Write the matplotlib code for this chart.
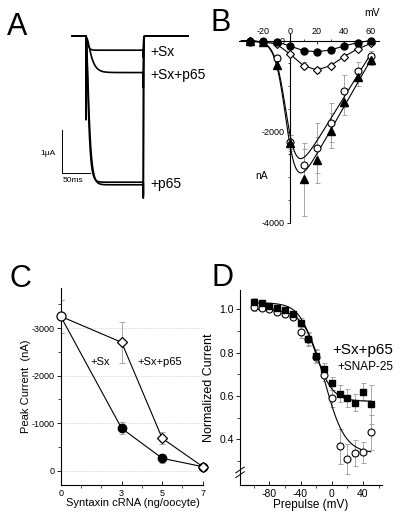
import matplotlib.pyplot as plt
import numpy as np
from matplotlib.ticker import FixedLocator, MultipleLocator

plt.rcParams['font.family'] = ['Liberation Sans', 'DejaVu Sans']
plt.rcParams['axes.unicode_minus'] = False

# ---- A: current traces (uA), step pulse ----
trace_labels = ['+Sx', '+Sx+p65', '+p65', '']
trace_amp = [-0.33, -0.85, -3.40, -3.46]     # steady-state current, uA
trace_tau = [2.5, 7.0, 3.5, 4.2]             # activation, ms
trace_tail = [-0.5, -1.2, -3.77, -3.7]       # tail peak, uA
trace_cap = [0.0, -1.95, 0.0, 0.0]           # onset transient, uA
pulse_on, pulse_off, trace_end = 24.5, 126.8, 206.6

# ---- B: I-V ----
iv_mv = [-30, -20, -10, 0, 10, 20, 30, 40, 50, 60]
iv_sx = [-25, -25, -30, -120, -224, -246, -209, -121, -48, 0]
iv_sx_err = [0, 0, 0, 30, 40, 40, 35, 30, 20, 10]
iv_sxp65 = [-20, -30, -77, -297, -553, -648, -553, -355, -187, -62]
iv_sxp65_err = [0, 0, 20, 40, 70, 70, 60, 50, 40, 30]
iv_p65 = [-10, -20, -377, -2224, -2736, -2356, -1806, -1110, -670, -333]
iv_p65_err = [0, 0, 60, 150, 350, 550, 430, 350, 200, 100]
iv_tri = [-15, -30, -538, -2246, -3051, -2626, -1982, -1345, -810, -428]
iv_tri_err = [0, 0, 80, 180, 800, 500, 380, 300, 200, 110]
# Boltzmann-ohmic fit parameters: gmax (nA/mV), Erev, V50, k
fit_p65 = (48, 66, -2.5, 4.0)
fit_tri = (52, 68, -2.5, 4.0)

# ---- C: dose response ----
dose = [0, 3, 5, 7]
peak_sx = [-3250, -893, -261, -84]
peak_sx_err = [350, 130, 100, 30]
peak_sxp65 = [-3250, -2703, -682, -84]
peak_sxp65_err = [350, 430, 130, 30]

# ---- D: inactivation ----
prepulse = [-100, -90, -80, -70, -60, -50, -40, -30, -20, -10, 0, 10, 20, 30, 40, 50]
norm_sq = [1.035, 1.028, 1.015, 1.007, 0.997, 0.978, 0.938, 0.862, 0.785, 0.722,
           0.659, 0.610, 0.590, 0.569, 0.620, 0.562]
norm_sq_err = [0.015, 0.01, 0.01, 0.01, 0.01, 0.01, 0.02, 0.03, 0.03, 0.03,
               0.03, 0.04, 0.04, 0.04, 0.04, 0.09]
norm_circ = [1.01, 1.005, 1.0, 0.986, 0.98, 0.963, 0.896, 0.865, 0.78, 0.697,
             0.589, 0.367, 0.309, 0.338, 0.339, 0.431]
norm_circ_err = [0.02, 0.01, 0.01, 0.01, 0.01, 0.01, 0.03, 0.03, 0.03, 0.03,
                 0.04, 0.08, 0.07, 0.06, 0.05, 0.08]
# Boltzmann: top, bottom, V50, k
boltz_sq = (1.03, 0.575, -21, 11)
boltz_circ = (1.0, 0.335, -9, 13)

W, H = 400, 516
fig = plt.figure(figsize=(4, 5.16), dpi=100)


def box(x0, y0, x1, y1):
    return [x0 / W, 1 - y1 / H, (x1 - x0) / W, (y1 - y0) / H]


def ftext(x, y, s, **kw):
    fig.text(x / W, 1 - y / H, s, ha='center', va='center', **kw)


# ================= A =================
axA = fig.add_axes(box(30, 15, 205, 215))
axA.axis('off')
ms_px = 50 / 28
ua_px = 1 / 43
axA.set_xlim((30 - 72.3) * ms_px, (205 - 72.3) * ms_px)
axA.set_ylim((36 - 215) * ua_px, (36 - 15) * ua_px)

t = np.arange(0, trace_end, 0.05)
for amp, tau, tail, cap in zip(trace_amp, trace_tau, trace_tail, trace_cap):
    i = np.zeros_like(t)
    on = (t >= pulse_on) & (t < pulse_off)
    i[on] = amp * (1 - np.exp(-(t[on] - pulse_on) / tau)) ** 2
    i[on] += cap * np.exp(-(t[on] - pulse_on) / 0.4)
    off = t >= pulse_off
    i[off] = tail * np.exp(-(t[off] - pulse_off) / 0.35)
    axA.plot(t, i, color='k', lw=1.2)

for lab, amp in zip(trace_labels, trace_amp):
    if lab:
        axA.text(pulse_off + 13, amp - 0.05, lab, fontsize=10, va='center')

# scale bar 1 uA / 50 ms
sx0, sy0 = -18.4, -3.19
axA.plot([sx0, sx0, sx0 + 50], [sy0 + 1, sy0, sy0], color='k', lw=0.7)
axA.text(sx0 - 25, sy0 + 0.45, '1µA', fontsize=6, ha='center', va='center')
axA.text(sx0 + 20, sy0 - 0.18, '50ms', fontsize=6, ha='center', va='center')
ftext(17, 27, 'A', fontsize=22)

# ================= B =================
axB = fig.add_axes(box(238, 30, 382, 228))
axB.set_xlim((238 - 290) / 1.35, (382 - 290) / 1.35)
axB.set_ylim(-(228 - 40.5) * 2000 / 91, (40.5 - 30) * 2000 / 91)
for s in ['bottom', 'right']:
    axB.spines[s].set_visible(False)
axB.spines['top'].set_position(('data', 0))
axB.spines['left'].set_position(('data', 0))
axB.spines['top'].set_bounds(-38, 66)
axB.spines['left'].set_bounds(-4000, 150)
axB.xaxis.set_ticks_position('top')
axB.set_xticks([-20, 0, 20, 40, 60])
axB.xaxis.set_minor_locator(MultipleLocator(10))
axB.set_yticks([-4000, -2000, 0])
axB.yaxis.set_minor_locator(FixedLocator([-3500, -3000, -2500, -1500, -1000, -500]))
axB.tick_params(labelsize=6.5, length=2.5, width=0.6, pad=1.5)
axB.tick_params(which='minor', length=1.5, width=0.5)
axB.tick_params(axis='x', direction='in', pad=3)
for sp in axB.spines.values():
    sp.set_linewidth(0.8)

vv = np.linspace(-36, 60, 300)
for g, erev, v50, k in (fit_p65, fit_tri):
    axB.plot(vv, g * (vv - erev) / (1 + np.exp((v50 - vv) / k)), color='k', lw=0.8, zorder=3)
ekw = dict(ecolor='#9a9a9a', elinewidth=0.6, capsize=1.8, capthick=0.6, ls='none', zorder=2)
axB.errorbar(iv_mv, iv_tri, yerr=iv_tri_err, **ekw)
axB.errorbar(iv_mv, iv_p65, yerr=iv_p65_err, **ekw)
axB.errorbar(iv_mv, iv_sxp65, yerr=iv_sxp65_err, **ekw)
axB.errorbar(iv_mv, iv_sx, yerr=iv_sx_err, **ekw)
axB.plot(iv_mv, iv_p65, 'o', ms=5, mfc='white', mec='k', mew=0.8, zorder=4)
axB.plot(iv_mv, iv_tri, '^', ms=5.5, mfc='k', mec='k', zorder=5)
axB.plot(iv_mv, iv_sxp65, '-D', color='k', lw=0.8, ms=4.3, mfc='white', mew=0.8, zorder=4)
axB.plot(iv_mv, iv_sx, '-o', color='k', lw=0.8, ms=5, zorder=5)
ftext(372, 13, 'mV', fontsize=7.5)
ftext(262, 176, 'nA', fontsize=7.5)
ftext(221, 23, 'B', fontsize=22)

# ================= C =================
axC = fig.add_axes(box(60.7, 288, 205, 485))
axC.set_xlim(0, (205 - 60.7) / 20.3)
axC.set_ylim((485 - 470.7) / 47.5 * 1000, -(470.7 - 288) / 47.5 * 1000)
axC.spines['top'].set_visible(False)
axC.spines['right'].set_visible(False)
axC.spines['bottom'].set_bounds(0, 7)
axC.set_xticks(dose)
axC.xaxis.set_minor_locator(FixedLocator([1, 2, 4, 6]))
axC.set_yticks([0, -1000, -2000, -3000])
axC.yaxis.set_minor_locator(MultipleLocator(500))
axC.tick_params(labelsize=6.5, width=0.6, length=3, pad=1.5)
axC.tick_params(which='minor', width=0.5, length=2)
axC.tick_params(axis='x', direction='in', pad=3)
axC.yaxis.grid(True, color='#c8c8c8', lw=0.6, ls=(0, (1, 1.5)))
for sp in axC.spines.values():
    sp.set_linewidth(0.8)

ekwC = dict(ecolor='#9a9a9a', elinewidth=0.6, capsize=2.5, capthick=0.6, ls='none', zorder=2)
axC.errorbar(dose, peak_sxp65, yerr=peak_sxp65_err, **ekwC)
axC.errorbar(dose, peak_sx, yerr=peak_sx_err, **ekwC)
axC.plot(dose, peak_sx, '-o', color='k', lw=0.8, ms=6, markevery=[1, 2, 3], zorder=4, clip_on=False)
axC.plot(dose, peak_sxp65, '-D', color='k', lw=0.8, ms=5.5, mfc='white', mew=0.9,
         markevery=[1, 2, 3], zorder=5, clip_on=False)
axC.plot(dose[:1], peak_sx[:1], 'o', ms=6.5, mfc='white', mec='k', mew=0.9, zorder=6, clip_on=False)
axC.text(1.94, -2290, '+Sx', fontsize=8, ha='center', va='center')
axC.text(4.89, -2290, '+Sx+p65', fontsize=8, ha='center', va='center')
axC.set_ylabel('Peak Current  (nA)', fontsize=8, labelpad=0)
axC.set_xlabel('Syntaxin cRNA (ng/oocyte)', fontsize=8, labelpad=0)
ftext(20, 279, 'C', fontsize=22)

# ================= D =================
axD = fig.add_axes(box(240, 290, 382, 485))
axD.set_xlim((240 - 331.7) / 0.78, (382 - 331.7) / 0.78)
axD.set_ylim(1.0 - (485 - 309.3) / 216.5, 1.0 + (309.3 - 290) / 216.5)
axD.spines['top'].set_visible(False)
axD.spines['right'].set_visible(False)
axD.set_xticks([-80, -40, 0, 40])
axD.xaxis.set_minor_locator(FixedLocator([-100, -60, -20, 20, 60]))
axD.set_yticks([0.4, 0.6, 0.8, 1.0])
axD.set_yticklabels(['0.4', '0.6', '0.8', '1.0'])
axD.yaxis.set_minor_locator(FixedLocator([0.3, 0.5, 0.7, 0.9]))
axD.tick_params(labelsize=7.5, width=0.6, length=3, pad=1.5)
axD.tick_params(which='minor', width=0.5, length=2)
axD.tick_params(axis='x', direction='in', pad=3)
for sp in axD.spines.values():
    sp.set_linewidth(0.8)

vd = np.linspace(-100, 50, 300)
for top, bot, v50, k in (boltz_sq, boltz_circ):
    axD.plot(vd, bot + (top - bot) / (1 + np.exp((vd - v50) / k)), color='k', lw=0.8, zorder=3)
axD.errorbar(prepulse, norm_circ, yerr=norm_circ_err, **ekw)
axD.errorbar(prepulse, norm_sq, yerr=norm_sq_err, **ekw)
axD.plot(prepulse, norm_circ, 'o', ms=5, mfc='white', mec='k', mew=0.8, zorder=4)
axD.plot(prepulse, norm_sq, 's', ms=5, color='k', zorder=5)
axD.text(40, 0.812, '+Sx+p65', fontsize=11, ha='center', va='center')
axD.text(43, 0.732, '+SNAP-25', fontsize=8.5, ha='center', va='center')
# axis break marks
for dy in (-0.012, 0.012):
    axD.plot([-0.03, 0.03], [0.05 + dy, 0.08 + dy], transform=axD.transAxes,
             color='k', lw=0.7, clip_on=False)
axD.set_ylabel('Normalized Current', fontsize=9, labelpad=3)
axD.set_xlabel('Prepulse (mV)', fontsize=8.5, labelpad=0)
ftext(223, 278, 'D', fontsize=22)

fig.savefig('out.png', dpi=100)
